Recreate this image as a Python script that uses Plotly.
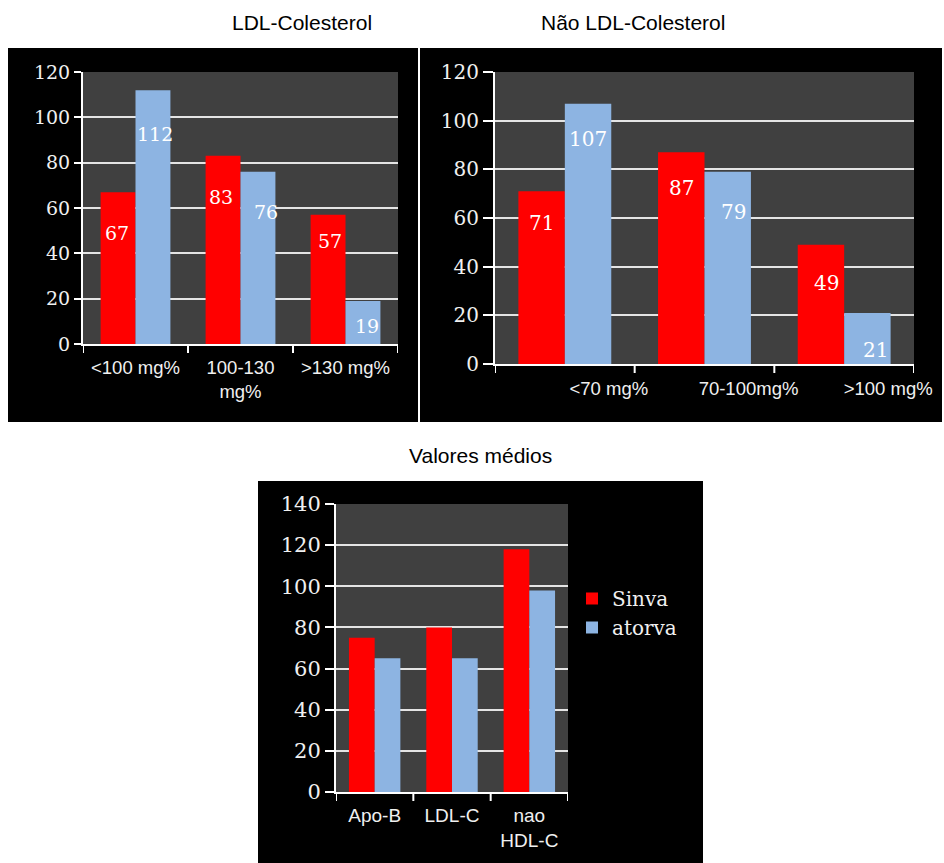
import plotly.graph_objects as go

W, H = 944, 863

# --- data -------------------------------------------------------------
series_names = ["Sinva", "atorva"]

ldl_cats = ["<100 mg%", "100-130<br>mg%", ">130 mg%"]
ldl_sinva = [67, 83, 57]
ldl_atorva = [112, 76, 19]

nldl_cats = ["<70 mg%", "70-100mg%", ">100 mg%"]
nldl_sinva = [71, 87, 49]
nldl_atorva = [107, 79, 21]

mean_cats = ["Apo-B", "LDL-C", "nao<br>HDL-C"]
mean_sinva = [75, 80, 118]
mean_atorva = [65, 65, 98]

titles = ["LDL-Colesterol", "Não LDL-Colesterol", "Valores médios"]

# --- style ------------------------------------------------------------
RED = "#ff0000"
BLUE = "#8db4e2"
PLOT_GRAY = "#404040"
GRID = "#e4e4e4"
TXT = "#f0f0f0"
SERIF = "DejaVu Serif"
SANS = "Liberation Sans, Arial, Helvetica, sans-serif"
BARGAP = 0.335

# value-label placement: px below bar top, px sideways
ldl_label_dy = [[41, 41, 26], [44, 40, 25]]
ldl_label_dx = [[-1, -2, 2], [2, 8, 4]]
nldl_label_dy = [[32, 36, 38], [35, 40, 37]]
nldl_label_dx = [[0, 0, 6], [0, 6, 8]]


def fx(x):
    return x / W


def fy(y):
    return 1 - y / H


panels = [
    dict(ax="", cats=ldl_cats, vals=[ldl_sinva, ldl_atorva], xd=(83, 398), yd=(344, 72),
         ymax=120, yfont=19, xfont=18.5, yticklen=7, shift=0, standoff=6, legend=False,
         lfont=19, dy=ldl_label_dy, dx=ldl_label_dx),
    dict(ax="2", cats=nldl_cats, vals=[nldl_sinva, nldl_atorva], xd=(495, 914), yd=(364, 72),
         ymax=120, yfont=20, xfont=18.5, yticklen=10, shift=44, standoff=7, legend=False,
         lfont=20, dy=nldl_label_dy, dx=nldl_label_dx),
    dict(ax="3", cats=mean_cats, vals=[mean_sinva, mean_atorva], xd=(336, 568), yd=(792, 504),
         ymax=140, yfont=21, xfont=19, yticklen=9, shift=0, standoff=5, legend=True,
         lfont=20, dy=None, dx=None),
]

fig = go.Figure()
shapes = []
annotations = []

# black slide backgrounds
for (x0, y0, x1, y1) in [(8, 48, 418, 422), (420, 48, 942, 422), (258, 481, 703, 863)]:
    shapes.append(dict(type="rect", xref="paper", yref="paper", x0=fx(x0), x1=fx(x1),
                       y0=fy(y1), y1=fy(y0), fillcolor="black", line_width=0, layer="below"))

layout_axes = {}
for p in panels:
    a = p["ax"]
    xa, ya = "x" + a, "y" + a
    for k, (vals, name, col) in enumerate(zip(p["vals"], series_names, [RED, BLUE])):
        fig.add_trace(go.Bar(x=list(range(len(p["cats"]))), y=vals, name=name,
                             marker=dict(color=col, line_width=0), xaxis=xa, yaxis=ya,
                             showlegend=p["legend"], hoverinfo="skip"))
    xkey = "xaxis" + a
    ykey = "yaxis" + a
    layout_axes[xkey] = dict(
        domain=[fx(p["xd"][0]), fx(p["xd"][1])], anchor=ya,
        type="linear", range=[-0.5, len(p["cats"]) - 0.5],
        tickmode="array", tickvals=list(range(len(p["cats"]))), ticktext=p["cats"],
        showgrid=False, zeroline=False, showline=True, linecolor="white", linewidth=2,
        ticks="", tickfont=dict(family=SANS, size=p["xfont"], color=TXT),
        ticklabelshift=p["shift"], ticklabelstandoff=p["standoff"],
        automargin=False, fixedrange=True,
    )
    layout_axes[ykey] = dict(
        domain=[fy(p["yd"][0]), fy(p["yd"][1])], anchor=xa,
        range=[0, p["ymax"]], dtick=20, tick0=0,
        showgrid=True, gridcolor=GRID, gridwidth=2, zeroline=False,
        showline=True, linecolor="white", linewidth=2,
        ticks="outside", ticklen=p["yticklen"], tickcolor="white", tickwidth=2,
        tickfont=dict(family=SERIF, size=p["yfont"], color=TXT),
        automargin=False, fixedrange=True,
    )
    # gray plotting area
    shapes.append(dict(type="rect", xref=xa + " domain", yref=ya + " domain", x0=0, x1=1, y0=0, y1=1,
                       fillcolor=PLOT_GRAY, line_width=0, layer="below"))
    # category boundary ticks under the x axis
    n = len(p["cats"])
    for b in range(n + 1):
        shapes.append(dict(type="line", xref=xa, yref=ya + " domain", x0=b - 0.5, x1=b - 0.5,
                           y0=0, y1=-9 / (p["yd"][0] - p["yd"][1]),
                           line=dict(color="white", width=2)))
    # value labels
    if p["dy"] is not None:
        half = (1 - BARGAP) / 4
        for k, vals in enumerate(p["vals"]):
            for i, v in enumerate(vals):
                annotations.append(dict(
                    xref=xa, yref=ya, x=i + (2 * k - 1) * half, y=v, text=str(v),
                    showarrow=False, yanchor="middle", xanchor="center",
                    yshift=-p["dy"][k][i], xshift=p["dx"][k][i],
                    font=dict(family=SERIF, size=p["lfont"], color="white")))

# panel titles
for t, (cx, cy) in zip(titles, [(302, 23), (633, 23), (480, 455)]):
    annotations.append(dict(xref="paper", yref="paper", x=fx(cx), y=fy(cy), text=t,
                            showarrow=False, xanchor="center", yanchor="middle",
                            font=dict(family=SANS, size=21, color="black")))

fig.update_layout(
    width=W, height=H, margin=dict(l=0, r=0, t=0, b=0),
    paper_bgcolor="white", plot_bgcolor=PLOT_GRAY,
    barmode="group", bargap=BARGAP, bargroupgap=0,
    shapes=shapes, annotations=annotations,
    legend=dict(x=fx(572), y=fy(613), xanchor="left", yanchor="middle",
                bgcolor="rgba(0,0,0,0)", font=dict(family=SERIF, size=20, color=TXT),
                tracegroupgap=0, itemwidth=30),
    showlegend=True,
    **layout_axes,
)

fig.write_html("out.html")
